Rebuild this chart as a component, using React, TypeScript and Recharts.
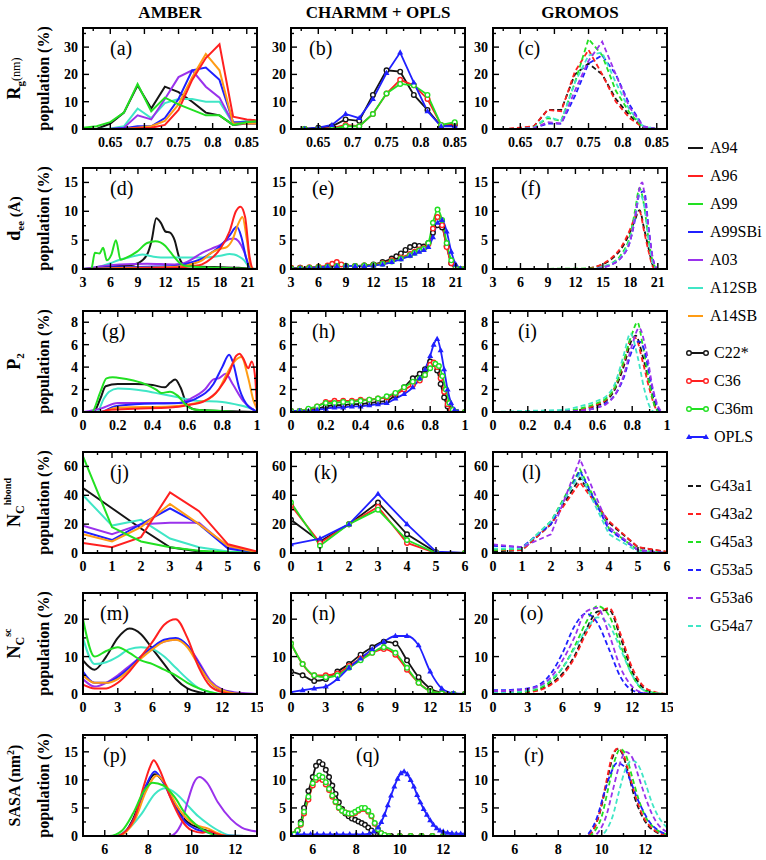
import React from 'react';
import { LineChart, Line, XAxis, YAxis } from 'recharts';

type P = [number, number][];

const BLACK = '#151515';
const RED = '#ff2020';
const GREEN = '#22e022';
const BLUE = '#2020ff';
const PURPLE = '#9a32ec';
const CYAN = '#40e6c6';
const ORANGE = '#ff9c14';

// ---- (a) Rg, AMBER
const aA94: P = [[0.61,0],[0.63,0],[0.65,2],[0.67,6],[0.69,16],[0.71,7.5],[0.73,15.5],[0.75,13.5],[0.77,10],[0.79,6],[0.81,5],[0.83,1.5],[0.85,2],[0.87,2]];
const aA96: P = [[0.61,0],[0.63,0],[0.65,0],[0.67,0],[0.69,0.3],[0.71,0.5],[0.73,1.5],[0.75,7],[0.77,18],[0.79,26],[0.81,31],[0.83,4.5],[0.85,3.5],[0.87,3]];
const aA99: P = [[0.61,0.5],[0.63,1],[0.65,2.5],[0.67,6],[0.69,16.5],[0.71,6.5],[0.73,11.5],[0.75,9],[0.77,7],[0.79,5],[0.81,5],[0.83,1.5],[0.85,2.5],[0.87,3]];
const aA99SBi: P = [[0.61,0],[0.63,0],[0.65,0],[0.67,0.3],[0.69,1],[0.71,1],[0.73,4],[0.75,11],[0.77,21.5],[0.79,22.5],[0.81,18],[0.83,2.5],[0.85,2.5],[0.87,2]];
const aA03: P = [[0.61,0],[0.63,0],[0.65,0],[0.67,0.5],[0.69,5],[0.71,3.5],[0.73,11],[0.75,19],[0.77,21.5],[0.79,15.5],[0.81,11.5],[0.83,2],[0.85,2],[0.87,2]];
const aA12SB: P = [[0.61,0],[0.63,0],[0.65,0.2],[0.67,1],[0.69,7.5],[0.71,4],[0.73,9.5],[0.75,11],[0.77,11],[0.79,10],[0.81,10],[0.83,2],[0.85,3],[0.87,3]];
const aA14SB: P = [[0.61,0],[0.63,0],[0.65,0],[0.67,0],[0.69,0.5],[0.71,1],[0.73,3],[0.75,9],[0.77,19],[0.79,27.5],[0.81,21.5],[0.83,2],[0.85,2],[0.87,2]];

// ---- (b) Rg, CHARMM + OPLS
const bC22: P = [[0.63,0],[0.65,0.5],[0.67,1],[0.69,3.5],[0.71,3],[0.73,12.5],[0.75,21.5],[0.77,21],[0.79,12.5],[0.81,7],[0.83,1],[0.85,1.5]];
const bC36: P = [[0.63,0],[0.65,0],[0.67,0.3],[0.69,1.5],[0.71,1],[0.73,5.5],[0.75,13],[0.77,18],[0.79,16],[0.81,11],[0.83,1.5],[0.85,2]];
const bC36m: P = [[0.63,0],[0.65,0],[0.67,0],[0.69,1],[0.71,1],[0.73,5.5],[0.75,13],[0.77,16.5],[0.79,16],[0.81,12.5],[0.83,1.5],[0.85,2.5]];
const bOPLS: P = [[0.63,0],[0.65,0.5],[0.67,1.5],[0.69,5.5],[0.71,4],[0.73,11],[0.75,20.5],[0.77,28],[0.79,17],[0.81,6.5],[0.83,1],[0.85,1]];

// ---- (c) Rg, GROMOS
const cG43a1: P = [[0.61,0],[0.63,0],[0.65,0.3],[0.67,1],[0.69,7],[0.71,7],[0.73,20],[0.75,24],[0.77,20],[0.79,11],[0.81,5],[0.83,0.5],[0.85,0],[0.87,0]];
const cG43a2: P = [[0.61,0],[0.63,0],[0.65,0.5],[0.67,1],[0.69,7],[0.71,6.5],[0.73,21],[0.75,29],[0.77,20],[0.79,10],[0.81,4],[0.83,0.5],[0.85,0],[0.87,0]];
const cG45a3: P = [[0.61,0],[0.63,0],[0.65,0],[0.67,0.5],[0.69,4],[0.71,3],[0.73,17],[0.75,33],[0.77,27],[0.79,14],[0.81,6],[0.83,0.5],[0.85,0],[0.87,0]];
const cG53a5: P = [[0.61,0],[0.63,0],[0.65,0],[0.67,0.3],[0.69,2],[0.71,2],[0.73,12],[0.75,24],[0.77,27],[0.79,20],[0.81,9],[0.83,1],[0.85,0],[0.87,0]];
const cG53a6: P = [[0.61,0],[0.63,0],[0.65,0],[0.67,0.3],[0.69,2.5],[0.71,2],[0.73,14],[0.75,25],[0.77,32],[0.79,20],[0.81,8],[0.83,1],[0.85,0],[0.87,0]];
const cG54a7: P = [[0.61,0],[0.63,0],[0.65,0],[0.67,0.5],[0.69,4.5],[0.71,3],[0.73,17],[0.75,27],[0.77,28],[0.79,17],[0.81,7],[0.83,1],[0.85,0],[0.87,0]];

// ---- (d) dee, AMBER
const dA94: P = [[3,0],[4,0],[5,0.3],[6,0.5],[7,0.5],[8,0.6],[9,1],[10,2.5],[10.5,5],[11,8.8],[11.5,8],[12,6.5],[12.5,6.3],[13,5],[13.5,2],[14,0.8],[15,0.5],[16,0.4],[18,0.3],[20,0.2],[21,0.1],[22,0]];
const dA96: P = [[3,0],[8,0.1],[12,0.2],[14,0.3],[15,0.5],[16,0.8],[17,1.8],[18,3.5],[19,6.5],[19.7,10],[20.2,10.8],[20.7,9],[21.2,2],[21.6,0],[22,0]];
const dA99: P = [[3,0],[3.9,0],[4.3,2.8],[4.8,2.7],[5.2,3.7],[5.6,1.5],[6.1,2.5],[6.6,5],[7.1,1.6],[7.8,2],[8.9,3],[10,4.5],[10.9,4.8],[12,4],[12.5,3],[13.6,1],[14.2,0.5],[16,0.3],[18,0.2],[20,0.1],[22,0]];
const dA99SBi: P = [[3,0],[4,0.1],[6,0.3],[10,0.4],[13,0.5],[14,0.8],[15,1.2],[16,1.8],[17,2.8],[18,4],[19,5.8],[19.8,7.3],[20.3,5.5],[20.8,2],[21.2,0.3],[21.6,0],[22,0]];
const dA03: P = [[3,0],[4,0.2],[5,0.5],[7,0.8],[10,0.9],[13,0.8],[14,1],[15,1.8],[16,2.8],[17,3.5],[18,4.2],[19,5.2],[19.5,5.3],[20,4.8],[20.6,3],[21,1],[21.3,0],[22,0]];
const dA12SB: P = [[3,0],[4,0.2],[5,0.5],[6,1],[7,1.6],[8,2],[9,2.4],[9.5,2.5],[10.5,2.2],[11.5,2],[13,2],[14,2],[16,2],[17,2.1],[18,2.3],[19,2.6],[19.5,2.5],[20,2.2],[20.6,1.5],[21.2,0.2],[21.6,0],[22,0]];
const dA14SB: P = [[3,0],[8,0.2],[12,0.3],[14,0.5],[15,0.9],[16,1.5],[17,2.8],[18,3.5],[18.7,3.8],[19.3,5],[20,8],[20.4,9],[20.9,5],[21.3,0.5],[21.6,0],[22,0]];

// ---- (e) dee, CHARMM + OPLS
const eC22: P = [[3,0.2],[4,0.2],[5,0.2],[6,0.3],[7,0.4],[8,0.5],[9,0.5],[10,0.5],[11,0.6],[12,0.8],[13,1.2],[14,1.8],[14.5,2.2],[15,2.7],[15.5,3.3],[16,3.8],[16.5,4.1],[17,4],[17.5,3.9],[18,4.5],[18.5,6.3],[19,7.6],[19.5,7.2],[20,4],[20.5,1],[21,0.1],[21.5,0],[22,0]];
const eC36: P = [[3,0.2],[4,0.2],[5,0.3],[6,0.4],[7,0.6],[7.5,0.9],[8,1.2],[8.5,0.8],[9,0.5],[10,0.5],[11,0.6],[12,0.7],[13,1],[14,1.5],[15,2],[16,2.6],[16.5,3],[17,3.4],[17.5,3.6],[18,4.3],[18.5,7],[19,9],[19.5,7.6],[20,3.8],[20.5,1],[21,0.1],[21.5,0],[22,0]];
const eC36m: P = [[3,0.1],[4,0.1],[5,0.2],[6,0.3],[7,0.4],[8,0.5],[9,0.5],[10,0.5],[11,0.6],[12,0.7],[13,0.9],[14,1.3],[15,1.8],[16,2.4],[16.5,2.8],[17,3.2],[17.5,3.5],[18,4.5],[18.5,8],[19,10.3],[19.5,8.5],[20,4.5],[20.5,1.5],[21,0.2],[21.5,0],[22,0]];
const eOPLS: P = [[3,0.1],[4,0.1],[5,0.2],[6,0.3],[7,0.4],[8,0.5],[9,0.6],[10,0.5],[11,0.5],[12,0.6],[13,0.8],[14,1.2],[15,1.7],[16,2.3],[16.5,2.7],[17,3],[17.5,3.3],[18,3.8],[18.5,5.5],[19,8],[19.5,8.5],[20,6.5],[20.5,3],[21,0.8],[21.5,0.1],[22,0]];

// ---- (f) dee, GROMOS
const fG43a1: P = [[3,0],[13,0],[14,0.3],[15,0.8],[16,1.8],[17,3.5],[18,6.5],[18.5,8.5],[19,10.2],[19.5,7],[20,3.5],[20.5,0.5],[21,0],[22,0]];
const fG43a2: P = [[3,0],[13,0],[14,0.3],[15,0.9],[16,2],[17,3.8],[18,7],[18.5,9],[19,10],[19.5,6.5],[20,3],[20.5,0.3],[21,0],[22,0]];
const fG45a3: P = [[3,0],[14,0.1],[15,0.4],[16,1],[17,2.5],[18,6],[18.5,10],[19,14],[19.5,11],[20,5],[20.5,1],[21,0],[22,0]];
const fG53a5: P = [[3,0],[14,0],[15,0.3],[16,0.8],[17,2],[18,5],[18.5,8.5],[19,13],[19.5,13.5],[20,7],[20.5,1.5],[21,0],[22,0]];
const fG53a6: P = [[3,0],[14,0],[15,0.3],[16,0.8],[17,2],[18,5],[18.5,9],[19,14],[19.3,15],[19.6,12],[20,7],[20.5,1.5],[21,0],[22,0]];
const fG54a7: P = [[3,0],[14,0],[15,0.4],[16,1],[17,2.2],[18,5.5],[18.5,9],[19,13],[19.5,11],[20,5],[20.5,0.8],[21,0],[22,0]];

// ---- (g) P2, AMBER
const gA94: P = [[0,0],[0.06,0],[0.1,1.2],[0.13,2.3],[0.2,2.5],[0.3,2.5],[0.4,2.4],[0.47,2.2],[0.5,2.6],[0.53,2.9],[0.56,2.2],[0.6,0.6],[0.65,0.2],[0.8,0.1],[1,0]];
const gA96: P = [[0,0],[0.1,0],[0.15,0.2],[0.3,0.3],[0.5,0.4],[0.6,0.6],[0.7,1],[0.78,2],[0.84,3.5],[0.88,5],[0.9,5.2],[0.92,4.8],[0.95,3.9],[0.97,4.5],[0.99,3],[1,0]];
const gA99: P = [[0,0],[0.05,0],[0.1,1.8],[0.135,3],[0.17,3.1],[0.2,3.05],[0.29,2.8],[0.37,2.4],[0.42,2],[0.45,1.7],[0.5,1.8],[0.54,1.5],[0.6,0.5],[0.65,0.2],[0.8,0.1],[0.9,0],[1,0]];
const gA99SBi: P = [[0,0],[0.1,0],[0.18,0.5],[0.3,0.7],[0.55,0.8],[0.65,1.2],[0.75,2.5],[0.8,4],[0.84,5.1],[0.86,4.5],[0.9,2],[0.95,0.5],[0.98,0.2],[1,0]];
const gA03: P = [[0,0],[0.1,0.3],[0.2,0.8],[0.4,0.8],[0.55,0.8],[0.62,1.2],[0.7,2],[0.75,2.9],[0.78,3],[0.82,3.4],[0.86,2.5],[0.92,1],[0.97,0.3],[1,0]];
const gA12SB: P = [[0,0],[0.08,0],[0.12,1.2],[0.15,1.8],[0.2,2.1],[0.35,1.9],[0.45,1.6],[0.55,1.3],[0.65,1],[0.8,0.9],[0.9,0.6],[0.98,0.2],[1,0]];
const gA14SB: P = [[0,0],[0.1,0],[0.2,0.4],[0.5,0.5],[0.7,1],[0.78,2],[0.83,3.5],[0.87,4.5],[0.91,4.9],[0.95,3],[0.98,1],[1,0.3]];

// ---- (h) P2, CHARMM + OPLS
const hC22: P = [[0,0.1],[0.05,0.1],[0.1,0.2],[0.15,0.3],[0.2,0.5],[0.25,0.6],[0.3,0.6],[0.35,0.7],[0.4,0.7],[0.45,0.8],[0.5,0.9],[0.55,1],[0.6,1.5],[0.65,2.2],[0.7,3],[0.74,3.4],[0.77,3.8],[0.8,4.5],[0.82,4.3],[0.84,3.7],[0.86,2.5],[0.88,1.3],[0.9,0.5],[0.92,0.1],[0.95,0],[1,0]];
const hC36: P = [[0,0.1],[0.05,0.1],[0.1,0.2],[0.15,0.5],[0.2,0.9],[0.25,1],[0.3,1],[0.35,1],[0.4,1.1],[0.45,1.1],[0.5,1.2],[0.55,1.3],[0.6,1.6],[0.65,2],[0.7,2.4],[0.74,2.8],[0.77,3.3],[0.8,4.2],[0.82,4.4],[0.84,4],[0.86,3],[0.88,1.8],[0.9,0.7],[0.92,0.2],[0.95,0],[1,0]];
const hC36m: P = [[0,0.1],[0.05,0.1],[0.1,0.3],[0.15,0.5],[0.2,0.8],[0.25,0.8],[0.3,0.9],[0.35,0.9],[0.4,1],[0.45,1.1],[0.5,1.2],[0.55,1.4],[0.6,1.7],[0.65,2.2],[0.7,2.7],[0.74,3],[0.77,3.3],[0.8,3.9],[0.83,4.3],[0.85,4.1],[0.87,3.2],[0.89,2],[0.91,0.8],[0.93,0.2],[0.95,0],[1,0]];
const hOPLS: P = [[0,0.1],[0.05,0.1],[0.1,0.1],[0.15,0.2],[0.2,0.3],[0.25,0.4],[0.3,0.4],[0.35,0.5],[0.4,0.5],[0.45,0.6],[0.5,0.7],[0.55,0.8],[0.6,1.2],[0.65,1.6],[0.7,2.2],[0.74,3],[0.77,3.8],[0.8,5],[0.82,6],[0.84,6.5],[0.86,5.5],[0.88,3.8],[0.9,2],[0.92,0.8],[0.94,0.2],[0.96,0],[1,0]];

// ---- (i) P2, GROMOS
const iG43a1: P = [[0,0],[0.3,0],[0.5,0.2],[0.6,0.6],[0.65,1],[0.7,2],[0.75,4],[0.8,6.5],[0.82,6.8],[0.86,5],[0.9,2.5],[0.94,0.3],[0.96,0],[1,0]];
const iG43a2: P = [[0,0],[0.3,0],[0.5,0.2],[0.6,0.7],[0.65,1.1],[0.7,2.2],[0.75,4.3],[0.8,6.7],[0.82,6.6],[0.86,4.5],[0.9,2],[0.94,0.2],[0.96,0],[1,0]];
const iG45a3: P = [[0,0],[0.3,0],[0.4,0.1],[0.5,0.3],[0.6,0.8],[0.65,1.2],[0.7,2.2],[0.75,4.5],[0.8,7],[0.83,8],[0.86,6],[0.9,2.5],[0.93,0.5],[0.96,0],[1,0]];
const iG53a5: P = [[0,0],[0.3,0],[0.5,0.1],[0.6,0.4],[0.65,0.8],[0.7,1.5],[0.75,3],[0.8,5.5],[0.84,6.3],[0.87,5.5],[0.91,2.5],[0.95,0.3],[0.97,0],[1,0]];
const iG53a6: P = [[0,0],[0.3,0],[0.5,0.1],[0.6,0.4],[0.65,0.7],[0.7,1.5],[0.75,3.2],[0.8,6],[0.84,7.5],[0.88,5.5],[0.92,2],[0.96,0.2],[0.98,0],[1,0]];
const iG54a7: P = [[0,0],[0.2,0.1],[0.4,0.2],[0.5,0.5],[0.6,1],[0.65,1.4],[0.7,2.5],[0.75,5],[0.79,7],[0.83,5],[0.87,2],[0.9,0.5],[0.93,0],[1,0]];

// ---- (j) Nc hbond, AMBER
const jA94: P = [[0,45],[1,31],[2,17],[3,4],[4,1],[5,0],[6,0]];
const jA96: P = [[0,7],[1,4],[2,11],[3,42],[4,29],[5,6],[6,1]];
const jA99: P = [[0,67],[1,18],[2,8],[3,4],[4,1.5],[5,0.5],[6,0]];
const jA99SBi: P = [[0,15],[1,9],[2,20],[3,31],[4,20],[5,3],[6,0]];
const jA03: P = [[0,19],[1,13],[2,20],[3,21],[4,21],[5,4],[6,0]];
const jA12SB: P = [[0,40],[1,19],[2,23],[3,10],[4,4],[5,1],[6,0]];
const jA14SB: P = [[0,13],[1,8],[2,18],[3,34],[4,20],[5,5],[6,0.5]];

// ---- (k) Nc hbond, CHARMM + OPLS
const kC22: P = [[0,23],[1,8],[2,20],[3,35],[4,13],[5,0.5],[6,0]];
const kC36: P = [[0,33],[1,7],[2,20],[3,32],[4,7],[5,0],[6,0]];
const kC36m: P = [[0,35],[1,5],[2,20],[3,30],[4,9],[5,0],[6,0]];
const kOPLS: P = [[0,6],[1,10],[2,20],[3,41],[4,20],[5,1],[6,0]];

// ---- (l) Nc hbond, GROMOS
const lG43a1: P = [[0,1],[1,2],[2,20],[3,52],[4,21],[5,4],[6,0.5]];
const lG43a2: P = [[0,2],[1,2],[2,20],[3,49],[4,22],[5,4],[6,1]];
const lG45a3: P = [[0,2],[1,3],[2,22],[3,58],[4,17],[5,2],[6,0]];
const lG53a5: P = [[0,5],[1,4],[2,20],[3,57],[4,16],[5,2],[6,0]];
const lG53a6: P = [[0,6],[1,4],[2,13],[3,65],[4,18],[5,2],[6,0]];
const lG54a7: P = [[0,3],[1,3],[2,22],[3,55],[4,13],[5,1],[6,0]];

// ---- (m) Nc sc, AMBER
const mA94: P = [[0,9],[1,6.5],[2,10],[3,15],[4,17.5],[5,16],[6,12],[7,8],[8,4],[9,1.5],[10,0.5],[11,0],[15,0]];
const mA96: P = [[0,2.5],[1,1.5],[2,1.5],[3,3],[4,6],[5,10],[6,14],[7,18.5],[8,20],[9,15],[10,7],[11,2],[12,0.5],[13,0],[15,0]];
const mA99: P = [[0,20],[1,10],[2,11.5],[3,12.5],[4,11],[5,9],[6,8],[7,6.5],[8,5],[9,3],[10,1.5],[11,0.5],[12,0],[15,0]];
const mA99SBi: P = [[0,6],[1,3],[2,3],[3,4.5],[4,7],[5,10],[6,12.5],[7,14.5],[8,15],[9,13],[10,8],[11,3],[12,1],[13,0.3],[14,0],[15,0]];
const mA03: P = [[0,4],[1,2],[2,3],[3,5],[4,7.5],[5,10],[6,12.5],[7,14],[8,14.5],[9,13],[10,8.5],[11,3.5],[12,1.2],[13,0.5],[14,0.2],[15,0]];
const mA12SB: P = [[0,15],[1,8],[2,8.5],[3,10],[4,12],[5,12.5],[6,12],[7,10],[8,7],[9,4],[10,1.5],[11,0.5],[12,0],[15,0]];
const mA14SB: P = [[0,5],[1,3],[2,3],[3,4],[4,6.5],[5,9.5],[6,12],[7,14],[8,14.5],[9,12.5],[10,7.5],[11,3],[12,1],[13,0.2],[14,0],[15,0]];

// ---- (n) Nc sc, CHARMM + OPLS
const nC22: P = [[0,6],[1,5],[2,3.5],[3,4],[4,6],[5,8],[6,10.5],[7,12.5],[8,14],[9,13.5],[10,9],[11,4.5],[12,1.5],[13,0.3],[14,0],[15,0]];
const nC36: P = [[0,13.5],[1,8],[2,5],[3,5],[4,5.5],[5,7.5],[6,9.5],[7,11],[8,12],[9,10.5],[10,6.5],[11,3],[12,0.8],[13,0.2],[14,0],[15,0]];
const nC36m: P = [[0,13.5],[1,8],[2,5],[3,4.5],[4,5],[5,7],[6,9],[7,11],[8,12.5],[9,11],[10,7],[11,3],[12,0.8],[13,0.2],[14,0],[15,0]];
const nOPLS: P = [[0,0.5],[1,1],[2,1.5],[3,2],[4,4],[5,7],[6,9.5],[7,12],[8,14],[9,15.5],[10,15.5],[11,13],[12,6],[13,1.5],[14,0.2],[15,0]];

// ---- (o) Nc sc, GROMOS
const oG43a1: P = [[0,0.3],[1,0.3],[2,0.4],[3,0.6],[4,1.2],[5,2.8],[6,5.5],[7,10],[8,17],[9,22],[10,22.5],[11,15],[12,6],[13,1.5],[14,0.3],[15,0]];
const oG43a2: P = [[0,0.2],[1,0.2],[2,0.3],[3,0.5],[4,1],[5,2.5],[6,5],[7,9.5],[8,16],[9,21],[10,23],[11,16],[12,7],[13,2],[14,0.5],[15,0]];
const oG45a3: P = [[0,0.3],[1,0.3],[2,0.4],[3,0.7],[4,1.5],[5,3.5],[6,7],[7,12.5],[8,19],[9,23.5],[10,21],[11,13],[12,5],[13,1],[14,0.3],[15,0]];
const oG53a5: P = [[0,1],[1,1],[2,1.2],[3,1.5],[4,2.5],[5,5.5],[6,11],[7,18],[8,21.5],[9,19],[10,12],[11,4.5],[12,1],[13,0.2],[14,0],[15,0]];
const oG53a6: P = [[0,0.8],[1,0.8],[2,1],[3,1.3],[4,2.2],[5,4.5],[6,9],[7,15],[8,22],[9,23],[10,16],[11,7],[12,2],[13,0.3],[14,0],[15,0]];
const oG54a7: P = [[0,0.5],[1,0.5],[2,0.6],[3,1],[4,2],[5,4],[6,7],[7,12],[8,17],[9,20.5],[10,18.5],[11,12],[12,5],[13,1],[14,0.2],[15,0]];

// ---- (p) SASA, AMBER
const pA94: P = [[5,0],[6.6,0],[7,1],[7.3,3],[7.8,8],[8.3,11],[8.8,9],[9.3,5],[9.8,2.5],[10.3,1.5],[10.8,0.8],[11.3,0.1],[13,0]];
const pA96: P = [[5,0],[6.5,0],[7,1],[7.4,3.5],[7.8,9],[8.1,12.5],[8.25,13.5],[8.5,12],[9,7],[9.5,3],[10,1],[10.5,0.6],[10.8,0.9],[11.2,0.3],[11.6,0],[13,0]];
const pA99: P = [[5,0],[6.2,0],[6.8,1],[7.3,4],[7.8,8],[8.2,9.5],[8.7,9],[9.2,7],[9.7,4],[10.2,2],[10.8,0.5],[11.3,0],[13,0]];
const pA99SBi: P = [[5,0],[6.6,0],[7,1],[7.4,3.5],[7.9,9],[8.3,11.5],[8.7,9.5],[9.2,5.5],[9.7,2.5],[10.2,1.2],[10.8,0.6],[11.3,0.1],[13,0]];
const pA03: P = [[5,0],[9,0],[9.5,2],[9.8,6],[10.1,9.5],[10.35,10.5],[10.7,9.5],[11.2,6],[11.8,3],[12.3,1.5],[13,0.8]];
const pA12SB: P = [[5,0],[6.5,0],[7,1],[7.7,4],[8.3,7.5],[8.8,8.5],[9.3,7.5],[9.8,5.5],[10.3,3.5],[10.8,2],[11.3,0.8],[11.8,0.1],[13,0]];
const pA14SB: P = [[5,0],[6.6,0],[7,0.8],[7.4,3],[7.9,8],[8.4,10.8],[8.8,9.2],[9.3,5.5],[9.8,3],[10.3,1.8],[10.7,1.4],[11.2,0.5],[11.6,0],[13,0]];

// ---- (q) SASA, CHARMM + OPLS
const qC22: P = [[5,0],[5.15,0.3],[5.3,1],[5.45,2.5],[5.6,5],[5.8,8],[6,10.5],[6.15,12.5],[6.3,13.2],[6.45,12.8],[6.6,11.8],[6.75,10.5],[6.9,9],[7.05,7.5],[7.2,6],[7.35,4.8],[7.5,4],[7.65,3.5],[7.8,3.1],[7.95,2.9],[8.1,2.6],[8.25,2.3],[8.4,2],[8.55,1.5],[8.7,1],[8.85,0.5],[9,0.3],[9.15,0.1],[9.3,0],[9.6,0],[10,0],[10.5,0],[11,0],[11.5,0],[12,0],[12.5,0],[13,0]];
const qC36: P = [[5,0],[5.15,0.3],[5.3,1],[5.45,2],[5.6,4],[5.8,6.5],[6,9],[6.15,10],[6.3,10.3],[6.45,10],[6.6,9.2],[6.75,8.2],[6.9,7],[7.05,6],[7.2,5],[7.35,4.5],[7.5,4.2],[7.65,4],[7.8,3.9],[7.95,4.1],[8.1,4.5],[8.25,4.8],[8.4,4.8],[8.55,4.3],[8.7,3.5],[8.85,2.2],[9,1.2],[9.15,0.5],[9.3,0.2],[9.5,0],[10,0],[10.5,0],[11,0],[11.5,0],[12,0],[12.5,0],[13,0]];
const qC36m: P = [[5,0],[5.15,0.3],[5.3,1],[5.45,2.2],[5.6,4.3],[5.8,7],[6,9.4],[6.15,10.4],[6.3,10.8],[6.45,10.5],[6.6,9.6],[6.75,8.4],[6.9,7.2],[7.05,6.1],[7.2,5.1],[7.35,4.5],[7.5,4.2],[7.65,4],[7.8,4],[7.95,4.3],[8.1,4.7],[8.25,5],[8.4,5],[8.55,4.5],[8.7,3.6],[8.85,2.3],[9,1.2],[9.15,0.5],[9.3,0.2],[9.5,0],[10,0],[10.5,0],[11,0],[11.5,0],[12,0],[12.5,0],[13,0]];
const qOPLS: P = [[5,0.3],[5.3,0.3],[5.6,0.3],[5.9,0.3],[6.2,0.3],[6.5,0.3],[6.8,0.3],[7.1,0.3],[7.4,0.3],[7.7,0.3],[8,0.3],[8.3,0.3],[8.6,0.4],[8.8,0.8],[9,1.5],[9.15,2.5],[9.3,3.8],[9.45,5.5],[9.6,7.2],[9.75,8.8],[9.9,10.2],[10.05,11.2],[10.2,11.5],[10.35,11],[10.5,10],[10.65,8.8],[10.8,7.3],[10.95,6],[11.1,4.8],[11.25,3.8],[11.4,2.8],[11.55,2],[11.7,1.4],[11.85,1],[12,0.8],[12.2,0.6],[12.4,0.5],[12.6,0.4],[12.8,0.4],[13,0.4]];

// ---- (r) SASA, GROMOS
const rG43a1: P = [[5,0],[9.3,0],[9.6,1],[9.9,4],[10.2,9],[10.5,14],[10.7,15.5],[10.9,15],[11.2,11.5],[11.5,7],[11.8,4],[12.1,2],[12.5,0.7],[13,0.1]];
const rG43a2: P = [[5,0],[9.3,0],[9.6,1],[9.9,4.2],[10.2,9.5],[10.5,14.5],[10.75,15.6],[11,14.5],[11.3,10.5],[11.6,6.5],[11.9,3.5],[12.2,1.8],[12.6,0.6],[13,0.1]];
const rG45a3: P = [[5,0],[9.4,0],[9.7,1],[10,3.5],[10.3,8.5],[10.6,13.5],[10.85,15.5],[11.1,14.5],[11.4,10.5],[11.7,6.5],[12,3.5],[12.4,1.5],[13,0.3]];
const rG53a5: P = [[5,0],[9.2,0],[9.5,1],[9.8,3.5],[10.1,7.5],[10.4,11],[10.7,13],[11,12.5],[11.3,10],[11.6,7],[11.9,4.5],[12.2,2.5],[12.6,1],[13,0.3]];
const rG53a6: P = [[5,0],[9.6,0],[9.9,1],[10.2,3.5],[10.5,8],[10.8,12.5],[11.1,15],[11.4,14],[11.7,10.5],[12,7],[12.3,4],[12.6,2],[13,0.7]];
const rG54a7: P = [[5,0],[9.9,0],[10.2,1],[10.5,3.5],[10.8,8],[11.1,12],[11.4,13.5],[11.7,12.5],[12,9.5],[12.3,6],[12.6,3.5],[13,1.5]];

// axis ticks for each row of panels
const ROWS = [
  { xDomain: [0.61, 0.865], xMajor: [0.65, 0.7, 0.75, 0.8, 0.85], xMinor: [0.625, 0.675, 0.725, 0.775, 0.825], yDomain: [0, 37], yMajor: [0, 10, 20, 30], yMinor: [5, 15, 25, 35], curve: 'linear' },
  { xDomain: [3, 22], xMajor: [3, 6, 9, 12, 15, 18, 21], xMinor: [4.5, 7.5, 10.5, 13.5, 16.5, 19.5], yDomain: [0, 17.5], yMajor: [0, 5, 10, 15], yMinor: [2.5, 7.5, 12.5], curve: 'monotone' },
  { xDomain: [0, 1], xMajor: [0, 0.2, 0.4, 0.6, 0.8, 1], xMinor: [0.1, 0.3, 0.5, 0.7, 0.9], yDomain: [0, 9], yMajor: [0, 2, 4, 6, 8], yMinor: [1, 3, 5, 7], curve: 'monotone' },
  { xDomain: [0, 6], xMajor: [0, 1, 2, 3, 4, 5, 6], xMinor: [0.5, 1.5, 2.5, 3.5, 4.5, 5.5], yDomain: [0, 70], yMajor: [0, 20, 40, 60], yMinor: [10, 30, 50], curve: 'linear' },
  { xDomain: [0, 15], xMajor: [0, 3, 6, 9, 12, 15], xMinor: [1.5, 4.5, 7.5, 10.5, 13.5], yDomain: [0, 27], yMajor: [0, 10, 20], yMinor: [5, 15, 25], curve: 'monotone' },
  { xDomain: [5, 13], xMajor: [6, 8, 10, 12], xMinor: [5, 7, 9, 11, 13], yDomain: [0, 18], yMajor: [0, 5, 10, 15], yMinor: [2.5, 7.5, 12.5, 17.5], curve: 'monotone' },
];

type Kind = 'amber' | 'circle' | 'tri' | 'dash';
type S = { name: string; color: string; data: P; kind: Kind };

const amber = (a94: P, a96: P, a99: P, sbi: P, a03: P, a12: P, a14: P): S[] => [
  { name: 'A94', color: BLACK, data: a94, kind: 'amber' },
  { name: 'A12SB', color: CYAN, data: a12, kind: 'amber' },
  { name: 'A03', color: PURPLE, data: a03, kind: 'amber' },
  { name: 'A99SBi', color: BLUE, data: sbi, kind: 'amber' },
  { name: 'A14SB', color: ORANGE, data: a14, kind: 'amber' },
  { name: 'A96', color: RED, data: a96, kind: 'amber' },
  { name: 'A99', color: GREEN, data: a99, kind: 'amber' },
];
const charmm = (c22: P, c36: P, c36m: P, opls: P): S[] => [
  { name: 'C22*', color: BLACK, data: c22, kind: 'circle' },
  { name: 'C36', color: RED, data: c36, kind: 'circle' },
  { name: 'C36m', color: GREEN, data: c36m, kind: 'circle' },
  { name: 'OPLS', color: BLUE, data: opls, kind: 'tri' },
];
const gromos = (g1: P, g2: P, g3: P, g5: P, g6: P, g7: P): S[] => [
  { name: 'G43a1', color: BLACK, data: g1, kind: 'dash' },
  { name: 'G43a2', color: RED, data: g2, kind: 'dash' },
  { name: 'G45a3', color: GREEN, data: g3, kind: 'dash' },
  { name: 'G53a5', color: BLUE, data: g5, kind: 'dash' },
  { name: 'G54a7', color: CYAN, data: g7, kind: 'dash' },
  { name: 'G53a6', color: PURPLE, data: g6, kind: 'dash' },
];

const PANELS = [
  { id: 'a', row: 0, col: 0, dx: 27, series: amber(aA94, aA96, aA99, aA99SBi, aA03, aA12SB, aA14SB) },
  { id: 'b', row: 0, col: 1, dx: 18, series: charmm(bC22, bC36, bC36m, bOPLS) },
  { id: 'c', row: 0, col: 2, dx: 25, series: gromos(cG43a1, cG43a2, cG45a3, cG53a5, cG53a6, cG54a7) },
  { id: 'd', row: 1, col: 0, dx: 27, series: amber(dA94, dA96, dA99, dA99SBi, dA03, dA12SB, dA14SB) },
  { id: 'e', row: 1, col: 1, dx: 21, series: charmm(eC22, eC36, eC36m, eOPLS) },
  { id: 'f', row: 1, col: 2, dx: 28, series: gromos(fG43a1, fG43a2, fG45a3, fG53a5, fG53a6, fG54a7) },
  { id: 'g', row: 2, col: 0, dx: 19, series: amber(gA94, gA96, gA99, gA99SBi, gA03, gA12SB, gA14SB) },
  { id: 'h', row: 2, col: 1, dx: 21, series: charmm(hC22, hC36, hC36m, hOPLS) },
  { id: 'i', row: 2, col: 2, dx: 25, series: gromos(iG43a1, iG43a2, iG45a3, iG53a5, iG53a6, iG54a7) },
  { id: 'j', row: 3, col: 0, dx: 27, series: amber(jA94, jA96, jA99, jA99SBi, jA03, jA12SB, jA14SB) },
  { id: 'k', row: 3, col: 1, dx: 23, series: charmm(kC22, kC36, kC36m, kOPLS) },
  { id: 'l', row: 3, col: 2, dx: 29, series: gromos(lG43a1, lG43a2, lG45a3, lG53a5, lG53a6, lG54a7) },
  { id: 'm', row: 4, col: 0, dx: 17, series: amber(mA94, mA96, mA99, mA99SBi, mA03, mA12SB, mA14SB) },
  { id: 'n', row: 4, col: 1, dx: 21, series: charmm(nC22, nC36, nC36m, nOPLS) },
  { id: 'o', row: 4, col: 2, dx: 27, series: gromos(oG43a1, oG43a2, oG45a3, oG53a5, oG53a6, oG54a7) },
  { id: 'p', row: 5, col: 0, dx: 20, series: amber(pA94, pA96, pA99, pA99SBi, pA03, pA12SB, pA14SB) },
  { id: 'q', row: 5, col: 1, dx: 65, series: charmm(qC22, qC36, qC36m, qOPLS) },
  { id: 'r', row: 5, col: 2, dx: 31, series: gromos(rG43a1, rG43a2, rG45a3, rG53a5, rG53a6, rG54a7) },
];

// layout
const COLS = [83, 291, 493];
const ROWTOPS = [28, 168, 311, 452, 593, 735];
const YW = 40, MT = 6, MR = 6, PW = 174, PH = 101, XH = 26;
const CW = YW + PW + MR, CH = MT + PH + XH;
const SERIF = "'Liberation Serif', 'DejaVu Serif', 'Noto Serif', 'Times New Roman', serif";
const tickFont = { fontFamily: SERIF, fontSize: 14, fontWeight: 700, fill: '#000' } as const;

const toRows = (d: P) => d.map(([x, y]) => ({ x, y }));

function Panel({ p }: { p: (typeof PANELS)[number] }) {
  const ax = ROWS[p.row];
  const majX = new Set(ax.xMajor);
  const majY = new Set(ax.yMajor);
  const L = YW, R = YW + PW, T = MT, B = MT + PH;

  const xTick = (t: any) => {
    const v = t.payload.value;
    const big = majX.has(v);
    const n = big ? 6 : 3;
    return (
      <g>
        <line x1={t.x} x2={t.x} y1={B} y2={B - n} stroke="#000" strokeWidth={1.4} />
        <line x1={t.x} x2={t.x} y1={T} y2={T + n} stroke="#000" strokeWidth={1.4} />
        {big && <text x={t.x} y={B + 18} textAnchor="middle" style={tickFont}>{String(v)}</text>}
      </g>
    );
  };
  const yTick = (t: any) => {
    const v = t.payload.value;
    const big = majY.has(v);
    const n = big ? 6 : 3;
    return (
      <g>
        <line x1={L} x2={L + n} y1={t.y} y2={t.y} stroke="#000" strokeWidth={1.4} />
        <line x1={R} x2={R - n} y1={t.y} y2={t.y} stroke="#000" strokeWidth={1.4} />
        {big && <text x={L - 5} y={t.y + 5} textAnchor="end" style={tickFont}>{String(v)}</text>}
      </g>
    );
  };

  return (
    <div style={{ position: 'absolute', left: COLS[p.col] - YW, top: ROWTOPS[p.row] - MT, width: CW, height: CH }}>
      <LineChart width={CW} height={CH} margin={{ top: MT, right: MR, left: 0, bottom: 0 }}>
        <XAxis type="number" dataKey="x" domain={ax.xDomain} ticks={[...ax.xMajor, ...ax.xMinor]} interval={0}
          tick={xTick} tickLine={false} axisLine={false} height={XH} allowDataOverflow />
        <YAxis type="number" domain={ax.yDomain} ticks={[...ax.yMajor, ...ax.yMinor]} interval={0}
          tick={yTick} tickLine={false} axisLine={false} width={YW} allowDataOverflow />
        {p.series.map((s) => {
          let dot: any = false;
          if (s.kind === 'circle') dot = { r: 2.3, fill: '#fff', stroke: s.color, strokeWidth: 1.4 };
          if (s.kind === 'tri')
            dot = (d: any) => (
              <path key={`t${d.index}`} d={`M${d.cx},${d.cy - 3.2}L${d.cx + 3},${d.cy + 2}L${d.cx - 3},${d.cy + 2}Z`} fill={s.color} />
            );
          return (
            <Line key={s.name} data={toRows(s.data)} dataKey="y" name={s.name} type={ax.curve as any}
              stroke={s.color} strokeWidth={s.kind === 'amber' ? 2 : 1.8}
              strokeDasharray={s.kind === 'dash' ? '5 3' : undefined}
              dot={dot} activeDot={false} isAnimationActive={false} />
          );
        })}
      </LineChart>
      <div style={{ position: 'absolute', left: L - 1, top: T - 1, width: PW + 2, height: PH + 2, border: '2px solid #000', boxSizing: 'border-box', pointerEvents: 'none' }} />
    </div>
  );
}

const LEGEND: { label: string; color: string; kind: Kind; y: number }[] = [
  { label: 'A94', color: BLACK, kind: 'amber', y: 148 },
  { label: 'A96', color: RED, kind: 'amber', y: 176 },
  { label: 'A99', color: GREEN, kind: 'amber', y: 204 },
  { label: 'A99SBi', color: BLUE, kind: 'amber', y: 232 },
  { label: 'A03', color: PURPLE, kind: 'amber', y: 260 },
  { label: 'A12SB', color: CYAN, kind: 'amber', y: 288 },
  { label: 'A14SB', color: ORANGE, kind: 'amber', y: 316 },
  { label: 'C22*', color: BLACK, kind: 'circle', y: 353 },
  { label: 'C36', color: RED, kind: 'circle', y: 381 },
  { label: 'C36m', color: GREEN, kind: 'circle', y: 409 },
  { label: 'OPLS', color: BLUE, kind: 'tri', y: 437 },
  { label: 'G43a1', color: BLACK, kind: 'dash', y: 486 },
  { label: 'G43a2', color: RED, kind: 'dash', y: 514 },
  { label: 'G45a3', color: GREEN, kind: 'dash', y: 542 },
  { label: 'G53a5', color: BLUE, kind: 'dash', y: 570 },
  { label: 'G53a6', color: PURPLE, kind: 'dash', y: 598 },
  { label: 'G54a7', color: CYAN, kind: 'dash', y: 626 },
];

function LegendItem({ it }: { it: (typeof LEGEND)[number] }) {
  const y = it.y;
  const font = { fontFamily: SERIF, fontSize: 16, fill: '#000' };
  if (it.kind === 'circle' || it.kind === 'tri') {
    return (
      <g>
        <line x1={689} x2={706} y1={y} y2={y} stroke={it.color} strokeWidth={2} />
        {it.kind === 'circle' ? (
          <>
            <circle cx={689} cy={y} r={2.3} fill="#fff" stroke={it.color} strokeWidth={1.4} />
            <circle cx={706} cy={y} r={2.3} fill="#fff" stroke={it.color} strokeWidth={1.4} />
          </>
        ) : (
          <>
            <path d={`M689,${y - 3}L692,${y + 2}L686,${y + 2}Z`} fill={it.color} />
            <path d={`M706,${y - 3}L709,${y + 2}L703,${y + 2}Z`} fill={it.color} />
          </>
        )}
        <text x={714} y={y + 5} style={font}>{it.label}</text>
      </g>
    );
  }
  return (
    <g>
      <line x1={688} x2={703} y1={y} y2={y} stroke={it.color} strokeWidth={2} strokeDasharray={it.kind === 'dash' ? '5 3' : undefined} />
      <text x={710} y={y + 5} style={font}>{it.label}</text>
    </g>
  );
}

export default function App() {
  const bold = { fontFamily: SERIF, fontWeight: 700, fill: '#000' } as const;
  const rc = (i: number) => ROWTOPS[i] + PH / 2;
  const rot = (x: number, y: number) => `rotate(-90 ${x} ${y})`;
  return (
    <div style={{ position: 'absolute', left: 0, top: 0, width: 766, height: 860, background: '#fff', overflow: 'hidden' }}>
      {PANELS.map((p) => <Panel key={p.id} p={p} />)}
      <svg width={766} height={860} style={{ position: 'absolute', left: 0, top: 0, pointerEvents: 'none' }}>
        <text x={170} y={18} textAnchor="middle" style={{ ...bold, fontSize: 17 }}>AMBER</text>
        <text x={378} y={18} textAnchor="middle" style={{ ...bold, fontSize: 17 }}>CHARMM + OPLS</text>
        <text x={580} y={18} textAnchor="middle" style={{ ...bold, fontSize: 17 }}>GROMOS</text>

        {ROWTOPS.map((_, i) => (
          <text key={`pop${i}`} x={49} y={rc(i)} transform={rot(49, rc(i))} textAnchor="middle" style={{ ...bold, fontSize: 16 }}>population (%)</text>
        ))}

        <text x={20} y={rc(0)} transform={rot(20, rc(0))} textAnchor="middle" style={{ ...bold, fontSize: 18 }}>
          R<tspan dy={4} fontSize={11}>g</tspan><tspan dy={-4} fontSize={12} fontWeight={400}>(nm)</tspan>
        </text>
        <text x={20} y={rc(1)} transform={rot(20, rc(1))} textAnchor="middle" style={{ ...bold, fontSize: 18 }}>
          d<tspan dy={4} fontSize={11}>ee</tspan><tspan dy={-4} fontSize={15}> (Å)</tspan>
        </text>
        <text x={20} y={rc(2)} transform={rot(20, rc(2))} textAnchor="middle" style={{ ...bold, fontSize: 18 }}>
          P<tspan dy={4} fontSize={11}>2</tspan>
        </text>
        <text x={20} y={rc(3)} transform={rot(20, rc(3))} textAnchor="middle" style={{ ...bold, fontSize: 18 }}>
          N<tspan dy={4} fontSize={12}>C</tspan><tspan dy={-13} fontSize={10}>hbond</tspan>
        </text>
        <text x={20} y={rc(4)} transform={rot(20, rc(4))} textAnchor="middle" style={{ ...bold, fontSize: 18 }}>
          N<tspan dy={4} fontSize={12}>C</tspan><tspan dy={-13} fontSize={10}>sc</tspan>
        </text>
        <text x={20} y={rc(5)} transform={rot(20, rc(5))} textAnchor="middle" style={{ ...bold, fontSize: 16 }}>
          SASA (nm<tspan dy={-6} fontSize={10}>2</tspan><tspan dy={6}>)</tspan>
        </text>

        {PANELS.map((p) => (
          <text key={`lab${p.id}`} x={COLS[p.col] + p.dx} y={ROWTOPS[p.row] + 27} style={{ fontFamily: SERIF, fontSize: 20, fill: '#000' }}>({p.id})</text>
        ))}

        {LEGEND.map((it) => <LegendItem key={it.label} it={it} />)}
      </svg>
    </div>
  );
}
